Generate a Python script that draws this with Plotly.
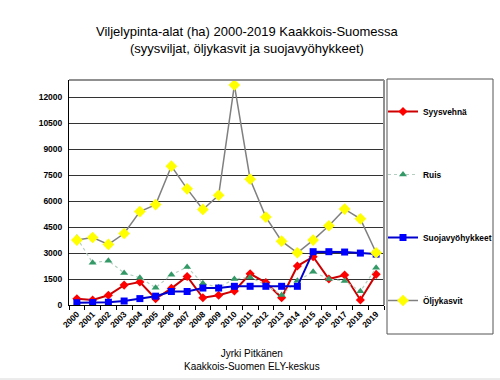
import plotly.graph_objects as go

years = [str(y) for y in range(2000, 2020)]

syysvehna = [360, 290, 560, 1150, 1330, 360, 960, 1650, 420, 560,
             810, 1800, 1300, 420, 2250, 2790, 1500, 1730, 290, 1770]
ruis = [3880, 2440, 2560, 1850, 1580, 1000, 1750, 2190, 1250, 1020,
        1500, 1600, 1150, 580, 1400, 1920, 1500, 1380, 790, 2150]
suojavyohykkeet = [130, 140, 160, 230, 370, 510, 780, 780, 980, 980,
                   1080, 1080, 1080, 1080, 1080, 3080, 3080, 3060, 3000, 2940]
oljykasvit = [3750, 3900, 3500, 4130, 5400, 5800, 8020, 6710, 5520, 6340,
              12710, 7270, 5080, 3690, 3020, 3750, 4580, 5540, 4980, 3020]

y_ticks = [0, 1500, 3000, 4500, 6000, 7500, 9000, 10500, 12000]

FONT = "Liberation Sans, Arial, sans-serif"

fig = go.Figure()
fig.add_trace(go.Scatter(
    x=years, y=syysvehna, name="<b>Syysvehnä</b>", mode="lines+markers",
    line=dict(color="#cc0000", width=2),
    marker=dict(symbol="diamond", size=7, color="#ff0000"),
    legendgroup="a"))
fig.add_trace(go.Scatter(
    x=years, y=ruis, name="<b>Ruis</b>", mode="lines+markers",
    line=dict(color="#b4cfc0", width=1.2, dash="dot"),
    marker=dict(symbol="triangle-up", size=7, color="#339966"),
    legendgroup="b"))
fig.add_trace(go.Scatter(
    x=years, y=suojavyohykkeet, name="<b>Suojavyöhykkeet</b>", mode="lines+markers",
    line=dict(color="#0000cc", width=2),
    marker=dict(symbol="square", size=7, color="#0000ff"),
    legendgroup="c"))
fig.add_trace(go.Scatter(
    x=years, y=oljykasvit, name="<b>Öljykasvit</b>", mode="lines+markers",
    line=dict(color="#808080", width=1.5),
    marker=dict(symbol="diamond", size=9, color="#ffff00"),
    legendgroup="d"))

fig.update_layout(
    width=500, height=380,
    margin=dict(l=69, r=116, t=80, b=75, autoexpand=False),
    paper_bgcolor="white", plot_bgcolor="white",
    font=dict(family=FONT, color="black"),
    showlegend=True,
    legend=dict(
        x=(383 - 69) / 315, xanchor="left", y=(305 - 97) / 225, yanchor="top",
        borderwidth=0, bgcolor="rgba(0,0,0,0)",
        font=dict(size=8.4, family=FONT, color="black"),
        tracegroupgap=44, itemwidth=30,
    ),
    xaxis=dict(
        type="category", range=[-0.5, 19.5],
        showgrid=False, showline=True, linecolor="black", linewidth=1,
        ticks="outside", tickson="boundaries", ticklen=4, tickcolor="black",
        tickangle=-45, tickfont=dict(size=8.5, family=FONT, color="black", weight="bold"),
    ),
    yaxis=dict(
        range=[0, 13000], tickvals=y_ticks, ticktext=[str(v) for v in y_ticks],
        showgrid=True, gridcolor="#333333", gridwidth=1,
        showline=True, linecolor="black", linewidth=1,
        ticks="", zeroline=False,
        tickfont=dict(size=8.5, family=FONT, color="black", weight="bold"),
        ticklabelstandoff=4,
    ),
)

# plot-area frame (grey top/right edges)
fig.add_shape(type="line", xref="paper", yref="paper", x0=0, x1=1, y0=1, y1=1,
              line=dict(color="#909090", width=2))
fig.add_shape(type="line", xref="paper", yref="paper", x0=1, x1=1, y0=0, y1=1,
              line=dict(color="#909090", width=2))
# legend box
fig.add_shape(type="rect", xref="paper", yref="paper",
              x0=(387 - 69) / 315, x1=(493 - 69) / 315,
              y0=(305 - 334) / 225, y1=(305 - 79) / 225,
              line=dict(color="#555555", width=1))
# light page edge at bottom
fig.add_shape(type="line", xref="paper", yref="paper", x0=-0.25, x1=1.4, y0=-0.329, y1=-0.329,
              line=dict(color="#d8d8d8", width=1))

fig.add_annotation(
    text="Viljelypinta-alat (ha) 2000-2019 Kaakkois-Suomessa<br>(syysviljat, öljykasvit ja suojavyöhykkeet)",
    xref="paper", yref="paper", x=0.568, y=1.18, xanchor="center", yanchor="middle",
    showarrow=False, font=dict(size=13, family=FONT, color="black"))
fig.add_annotation(
    text="Jyrki Pitkänen<br>Kaakkois-Suomen ELY-keskus",
    xref="paper", yref="paper", x=0.581, y=-0.245, xanchor="center", yanchor="middle",
    showarrow=False, font=dict(size=10, family=FONT, color="black"))

fig.write_html("out.html",
               config={"displayModeBar": False},
               post_script="document.body.style.margin='0';document.body.style.overflow='hidden';")
